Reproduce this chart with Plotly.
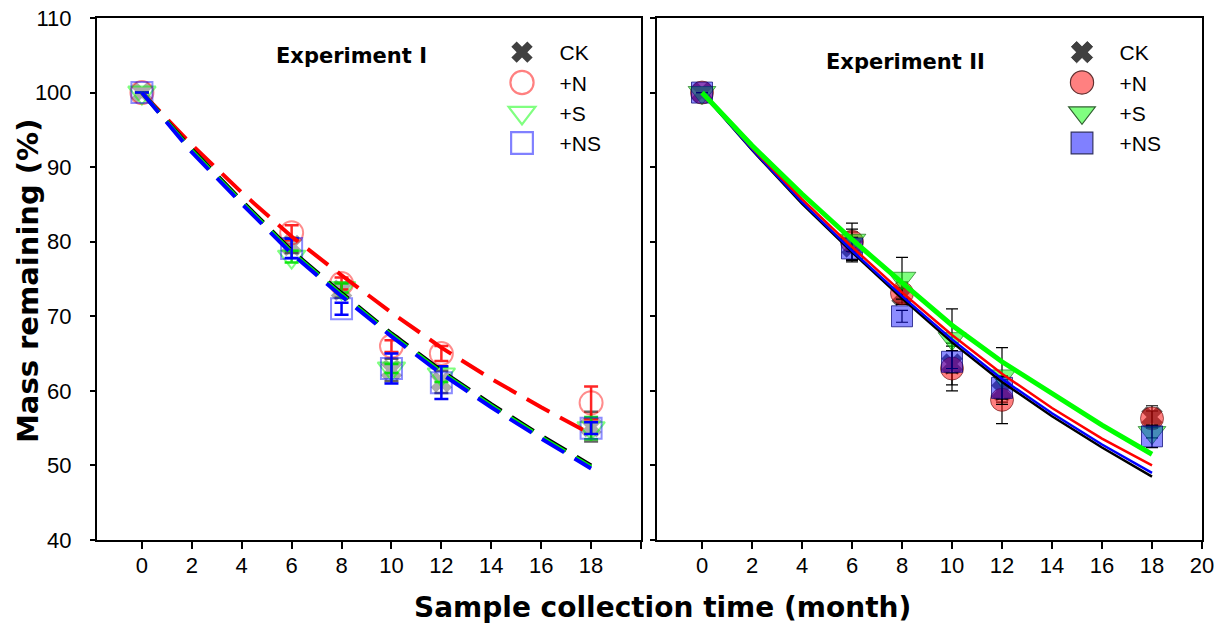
import plotly.graph_objects as go

# ---------------- data ----------------
t_fit = [0, 2, 4, 6, 8, 10, 12, 14, 16, 18]
t_obs = [0, 6, 8, 10, 12, 18]
x_ticks = [0, 2, 4, 6, 8, 10, 12, 14, 16, 18, 20]
x_ticktext_left = ["0", "2", "4", "6", "8", "10", "12", "14", "16", "18", ""]
x_ticktext_right = ["0", "2", "4", "6", "8", "10", "12", "14", "16", "18", "20"]
y_ticks = [40, 50, 60, 70, 80, 90, 100, 110]
treatments = ["CK", "+N", "+S", "+NS"]

# Experiment I - fitted decay curves (dashed)
e1_fit_ck = [100, 92.4, 85.5, 78.8, 73.1, 67.7, 62.7, 58.2, 54.0, 50.0]
e1_fit_n = [100, 93.0, 86.6, 80.7, 75.5, 70.5, 65.8, 61.6, 57.8, 54.2]
e1_fit_s = [100, 92.2, 85.3, 78.6, 72.9, 67.5, 62.5, 58.0, 53.8, 49.8]
e1_fit_ns = [100, 92.0, 85.1, 78.4, 72.7, 67.3, 62.3, 57.8, 53.6, 49.6]

# Experiment I - observations
e1_ck = [100, 79.5, 73.5, 62.8, 61.2, 55.2]
e1_ck_err = [0, 1.0, 1.0, 1.5, 1.5, 2.0]
e1_n = [100, 81.2, 74.4, 66.0, 65.0, 58.4]
e1_n_err = [0, 1.0, 0.8, 0.8, 1.0, 2.2]
e1_s = [100, 78.0, 73.8, 63.0, 62.2, 55.0]
e1_s_err = [0, 0.8, 0.6, 0.6, 1.0, 1.5]
e1_ns = [100, 79.1, 71.0, 63.0, 61.1, 55.0]
e1_ns_err = [0, 1.3, 0.8, 2.0, 2.2, 0.8]

# Experiment II - fitted decay curves (solid)
e2_fit_ck = [100, 92.3, 85.1, 78.6, 72.4, 66.5, 61.2, 56.6, 52.4, 48.5]
e2_fit_n = [100, 92.6, 85.7, 79.3, 73.2, 67.5, 62.3, 57.7, 53.6, 50.0]
e2_fit_s = [100, 92.9, 86.4, 80.3, 74.5, 68.8, 63.9, 59.6, 55.4, 51.5]
e2_fit_ns = [100, 92.4, 85.3, 78.8, 72.7, 66.9, 61.6, 57.0, 52.8, 49.0]

# Experiment II - observations
e2_ck = [100, 79.3, 72.8, 63.6, 60.0, 56.5]
e2_ck_err = [0, 2.0, 1.0, 2.8, 1.5, 1.5]
e2_n = [100, 80.0, 73.1, 63.0, 58.8, 56.3]
e2_n_err = [0, 2.5, 1.5, 3.0, 3.2, 1.0]
e2_s = [100, 80.2, 75.1, 67.0, 62.0, 54.4]
e2_s_err = [0, 1.5, 2.8, 4.0, 3.8, 0.7]
e2_ns = [100, 79.1, 70.0, 63.9, 60.4, 53.9]
e2_ns_err = [0, 1.5, 0.8, 1.5, 1.5, 1.5]

# ---------------- figure ----------------
W, H = 1223, 628
ML, MR, MT, MB = 97, 21, 18, 88
PW, PH = W - ML - MR, H - MT - MB


def px(xp):
    return (xp - ML) / PW


def py(yp):
    return (H - MB - yp) / PH


fig = go.Figure()

TICKFONT = dict(family="Liberation Sans, Arial, sans-serif", size=22, color="black")
BOLD = "DejaVu Sans, Arial Black, sans-serif"

# ---- Experiment I markers ----
e1_styles = [
    (e1_ck, e1_ck_err, dict(symbol="x", size=19, color="rgba(70,70,70,0.45)", line=dict(width=0)), "rgba(60,60,60,0.8)"),
    (e1_n, e1_n_err, dict(symbol="circle-open", size=23, color="rgba(255,0,0,0.45)", line=dict(width=2)), "rgba(255,0,0,0.85)"),
    (e1_s, e1_s_err, dict(symbol="triangle-down-open", size=24, color="rgba(0,255,0,0.5)", line=dict(width=2)), "rgba(0,220,0,0.9)"),
    (e1_ns, e1_ns_err, dict(symbol="square-open", size=21, color="rgba(0,0,255,0.45)", line=dict(width=2)), "rgba(0,0,255,1)"),
]
for vals, err, mk, ecol in e1_styles:
    fig.add_trace(go.Scatter(
        x=t_obs, y=vals, mode="markers", marker=mk, showlegend=False,
        error_y=dict(type="data", array=err, color=ecol, thickness=2.5, width=7),
        xaxis="x", yaxis="y", hoverinfo="skip"))

# ---- Experiment I dashed fits ----
for vals, col in [(e1_fit_n, "#ff0000"), (e1_fit_ck, "#000000"), (e1_fit_s, "#00ff00"), (e1_fit_ns, "#0000ff")]:
    fig.add_trace(go.Scatter(
        x=t_fit, y=vals, mode="lines", line=dict(color=col, width=4, dash="26px,12px"),
        showlegend=False, xaxis="x", yaxis="y", hoverinfo="skip"))

# ---- Experiment II markers ----
e2_styles = [
    (e2_ck, e2_ck_err, dict(symbol="x", size=19, color="rgba(50,50,50,0.75)", line=dict(width=0))),
    (e2_n, e2_n_err, dict(symbol="circle", size=23, color="rgba(255,0,0,0.5)", line=dict(width=1, color="rgba(90,0,0,0.6)"))),
    (e2_s, e2_s_err, dict(symbol="triangle-down", size=24, color="rgba(0,255,0,0.5)", line=dict(width=1, color="rgba(0,90,0,0.6)"))),
    (e2_ns, e2_ns_err, dict(symbol="square", size=21, color="rgba(0,0,255,0.45)", line=dict(width=1, color="rgba(0,0,110,0.7)"))),
]
for vals, err, mk in e2_styles:
    fig.add_trace(go.Scatter(
        x=t_obs, y=vals, mode="markers", marker=mk, showlegend=False,
        error_y=dict(type="data", array=err, color="black", thickness=1.2, width=6),
        xaxis="x2", yaxis="y2", hoverinfo="skip"))

# ---- Experiment II solid fits ----
for vals, col, w in [(e2_fit_ck, "#000000", 2.5), (e2_fit_ns, "#0000ff", 2.5), (e2_fit_n, "#ff0000", 2.5), (e2_fit_s, "#00ff00", 5)]:
    fig.add_trace(go.Scatter(
        x=t_fit, y=vals, mode="lines", line=dict(color=col, width=w),
        showlegend=False, xaxis="x2", yaxis="y2", hoverinfo="skip"))

# ---- legend entries (no data, legend only) ----
NB = "\u00a0\u00a0\u00a0"
leg1 = [
    dict(symbol="x", size=13, color="#404040", line=dict(width=0)),
    dict(symbol="circle-open", size=16, color="#ff8080", line=dict(width=1.5)),
    dict(symbol="triangle-down-open", size=16, color="#80ff80", line=dict(width=1.5)),
    dict(symbol="square-open", size=15, color="#8080ff", line=dict(width=1.5)),
]
leg2 = [
    dict(symbol="x", size=13, color="#404040", line=dict(width=0.5, color="#202020")),
    dict(symbol="circle", size=16, color="#ff8080", line=dict(width=0.8, color="#603030")),
    dict(symbol="triangle-down", size=16, color="#80ff80", line=dict(width=0.8, color="#306030")),
    dict(symbol="square", size=15, color="#8080ff", line=dict(width=0.8, color="#303060")),
]
for name, mk in zip(treatments, leg1):
    fig.add_trace(go.Scatter(x=[None], y=[None], mode="markers", marker=mk, name=NB + name,
                             legend="legend", legendgroup="a" + name, xaxis="x", yaxis="y"))
for name, mk in zip(treatments, leg2):
    fig.add_trace(go.Scatter(x=[None], y=[None], mode="markers", marker=mk, name=NB + name,
                             legend="legend2", legendgroup="b" + name, xaxis="x2", yaxis="y2"))

axis_common = dict(
    showline=True, linewidth=2, linecolor="black", mirror=True,
    showgrid=False, zeroline=False, ticks="outside", tickcolor="black",
    tickfont=TICKFONT,
)

legend_common = dict(
    xref="paper", yref="paper", xanchor="left", yanchor="top",
    font=dict(family="Liberation Sans, Arial, sans-serif", size=21, color="black"),
    bgcolor="rgba(0,0,0,0)", tracegroupgap=0, itemclick=False,
)

fig.update_layout(
    width=W, height=H,
    margin=dict(l=ML, r=MR, t=MT, b=MB, autoexpand=False),
    paper_bgcolor="white", plot_bgcolor="white",
    showlegend=True,
    xaxis=dict(domain=[0, px(641)], range=[-1.8, 20], tickvals=x_ticks, ticktext=x_ticktext_left,
               ticklen=7, tickwidth=1.5, ticklabelstandoff=-2, tickangle=0, **axis_common),
    yaxis=dict(domain=[0, 1], range=[40, 110], tickvals=y_ticks, ticklen=5, tickwidth=1.5,
               ticklabelstandoff=14, **axis_common),
    xaxis2=dict(domain=[px(657), 1], range=[-1.8, 20], tickvals=x_ticks, ticktext=x_ticktext_right,
                ticklen=7, tickwidth=1.5, ticklabelstandoff=-2, tickangle=0, anchor="y2", **axis_common),
    yaxis2=dict(domain=[0, 1], range=[40, 110], tickvals=y_ticks, ticklen=5, tickwidth=1.5,
                showticklabels=False, anchor="x2", **axis_common),
    legend=dict(x=px(502), y=py(32), **legend_common),
    legend2=dict(x=px(1062), y=py(32), **legend_common),
    annotations=[
        dict(text="<b>Experiment I</b>", x=px(351), y=py(56), xref="paper", yref="paper",
             showarrow=False, xanchor="center", yanchor="middle",
             font=dict(family=BOLD, size=21, color="black")),
        dict(text="<b>Experiment II</b>", x=px(905), y=py(62), xref="paper", yref="paper",
             showarrow=False, xanchor="center", yanchor="middle",
             font=dict(family=BOLD, size=21, color="black")),
        dict(text="<b>Sample collection time (month)</b>", x=px(662), y=py(607), xref="paper", yref="paper",
             showarrow=False, xanchor="center", yanchor="middle",
             font=dict(family=BOLD, size=28, color="black")),
        dict(text="<b>Mass remaining (%)</b>", x=px(28), y=py(281), xref="paper", yref="paper",
             showarrow=False, xanchor="center", yanchor="middle", textangle=-90,
             font=dict(family=BOLD, size=29, color="black")),
    ],
)

post = """
var gd = document.getElementById('{plot_id}');
function growLegend(){
  gd.querySelectorAll('.legendpoints path.scatterpts').forEach(function(p){
    var t = p.getAttribute('transform') || '';
    if (t.indexOf('scale') < 0) { p.setAttribute('transform', t + ' scale(1.45)'); }
  });
}
growLegend();
setTimeout(growLegend, 50);
"""

fig.write_html("out.html", post_script=post, config={"displayModeBar": False})
